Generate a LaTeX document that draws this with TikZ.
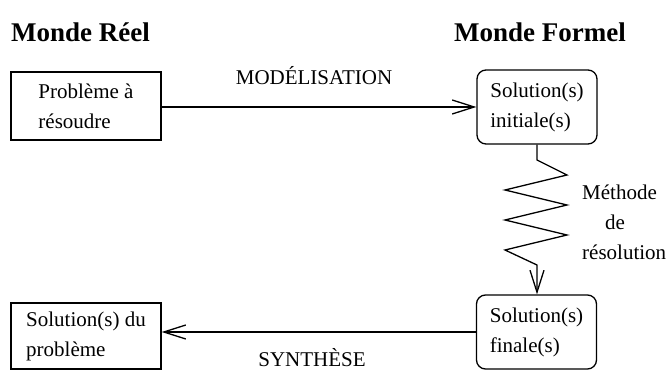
\documentclass[tikz,border=0pt]{standalone}
\usepackage{fontspec}
\setmainfont{Liberation Serif}
\usetikzlibrary{arrows.meta}
\begin{document}
\begin{tikzpicture}[x=1pt,y=-1pt,
  txt/.style={font=\fontsize{21}{30}\selectfont, align=left},
  hdr/.style={font=\fontsize{27}{30}\selectfont\bfseries, anchor=base west, inner sep=0pt},
  rbox/.style={txt, draw, line width=1.3pt, minimum width=150pt, minimum height=68pt, inner sep=0pt},
  sbox/.style={txt, draw, line width=1.3pt, rounded corners=9pt, minimum width=120pt, minimum height=74pt, inner sep=0pt},
  conn/.style={line width=1.3pt, -{Straight Barb[length=22pt,width=14pt,line width=1.3pt]}},
  lbl/.style={font=\fontsize{21}{30}\selectfont, anchor=base, inner sep=0pt}]
\useasboundingbox (0,0) rectangle (667,371);
\node[hdr] (reel) at (11,42) {Monde Réel};
\node[hdr] (formel) at (454,42) {Monde Formel};
\node[rbox] (pb) at (86,106) {Problème à\\résoudre};
\node[sbox] (si) at (537,107) {Solution(s)\\initiale(s)};
\node[sbox] (sf) at (536.5,332) {Solution(s)\\finale(s)};
\node[rbox, minimum height=66pt] (sp) at (86,336) {Solution(s) du\\problème};
\node[lbl] (mod) at (314,85) {MODÉLISATION};
\node[lbl] (syn) at (312,366.5) {SYNTHÈSE};
\node[txt, anchor=west, inner sep=0pt] (meth) at (582,222) {Méthode\\\hspace*{23pt}de\\résolution};
\draw[conn] (si.west -| pb.east) -- (si.west);
\draw[conn] (sf.west) -- (sf.west -| sp.east);
\draw[conn] (si.south) -- (537,160) -- (567,175) -- (505,190) -- (567,205) -- (505,220) -- (567,235) -- (505,250) -- (537,265) -- (sf.north -| si.south);
\end{tikzpicture}
\end{document}
